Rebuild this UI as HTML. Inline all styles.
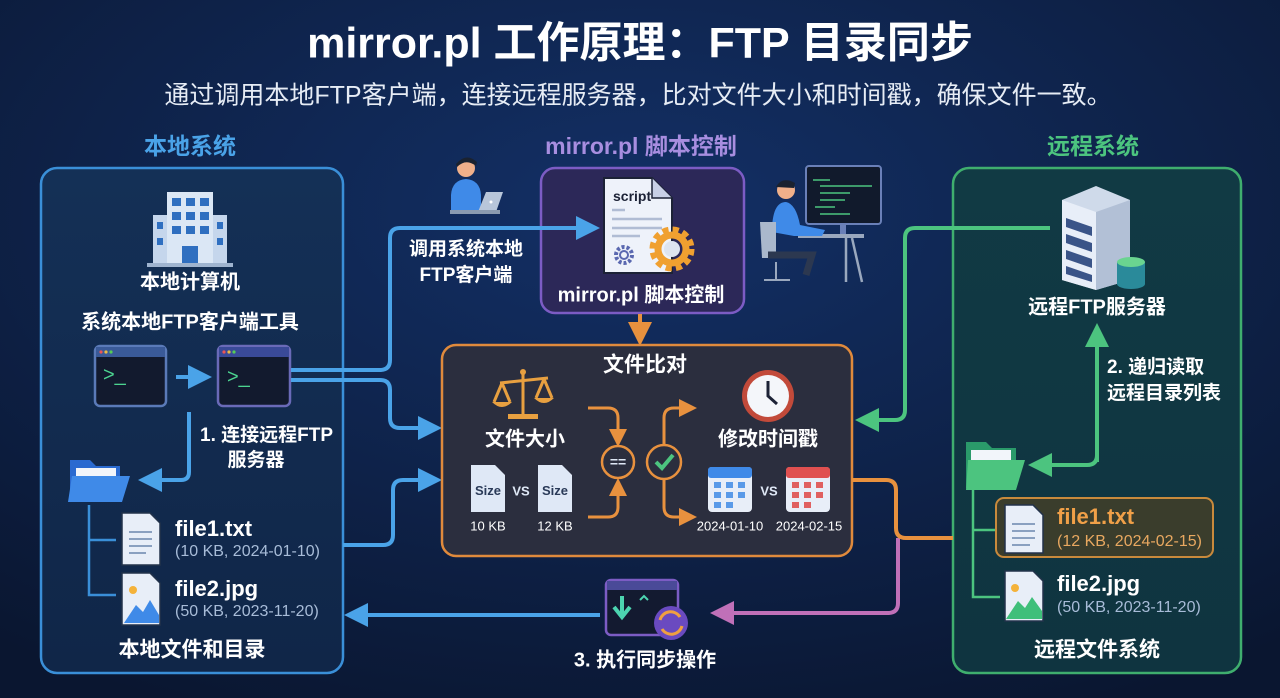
<!DOCTYPE html>
<html><head><meta charset="utf-8"><style>
html,body{margin:0;padding:0;width:1280px;height:698px;overflow:hidden;background:#0c1b38}
svg{display:block}
text{font-family:"Liberation Sans","Noto Sans CJK SC",sans-serif;}
</style></head><body>
<svg width="1280" height="698" viewBox="0 0 1280 698" xmlns="http://www.w3.org/2000/svg">
<defs>
<radialGradient id="bg" cx="50%" cy="30%" r="80%">
<stop offset="0" stop-color="#133066"/><stop offset="1" stop-color="#0a1630"/></radialGradient>
<linearGradient id="lb" x1="0" y1="0" x2="0" y2="1"><stop offset="0" stop-color="#143056"/><stop offset="1" stop-color="#102648"/></linearGradient>
<linearGradient id="rb" x1="0" y1="0" x2="0" y2="1"><stop offset="0" stop-color="#113a44"/><stop offset="1" stop-color="#0f3440"/></linearGradient>
<marker id="ab" markerWidth="6" markerHeight="6" refX="3" refY="3" orient="auto" markerUnits="strokeWidth"><path d="M0,0L6,3L0,6z" fill="#4aa3e8"/></marker>
<marker id="ag" markerWidth="6" markerHeight="6" refX="3" refY="3" orient="auto" markerUnits="strokeWidth"><path d="M0,0L6,3L0,6z" fill="#4cc47f"/></marker>
<marker id="ao" markerWidth="6" markerHeight="6" refX="3" refY="3" orient="auto" markerUnits="strokeWidth"><path d="M0,0L6,3L0,6z" fill="#e8913e"/></marker>
<marker id="ap" markerWidth="6" markerHeight="6" refX="3" refY="3" orient="auto" markerUnits="strokeWidth"><path d="M0,0L6,3L0,6z" fill="#c070b8"/></marker>
</defs>
<rect width="1280" height="698" fill="url(#bg)"/>

<text x="640" y="46" text-anchor="middle" dominant-baseline="middle" fill="#fff" font-size="43" font-weight="bold">mirror.pl 工作原理：FTP 目录同步</text>
<text x="638" y="97" text-anchor="middle" dominant-baseline="middle" fill="#e6ecf5" font-size="25">通过调用本地FTP客户端，连接远程服务器，比对文件大小和时间戳，确保文件一致。</text>

<!-- left box -->
<text x="190" y="148" text-anchor="middle" dominant-baseline="middle" fill="#4aa3e8" font-size="23" font-weight="bold">本地系统</text>
<rect x="41" y="168" width="302" height="505" rx="16" fill="url(#lb)" stroke="#3a8fd8" stroke-width="2.5"/>
<rect x="167" y="192" width="46" height="72" fill="#dbe7f5"/><rect x="153" y="215" width="14" height="49" fill="#c5d6ec"/><rect x="213" y="215" width="14" height="49" fill="#c5d6ec"/>
<g fill="#2f6fc0"><rect x="172" y="198" width="9" height="8"/><rect x="186" y="198" width="9" height="8"/><rect x="200" y="198" width="9" height="8"/><rect x="172" y="212" width="9" height="8"/><rect x="186" y="212" width="9" height="8"/><rect x="200" y="212" width="9" height="8"/><rect x="172" y="226" width="9" height="8"/><rect x="186" y="226" width="9" height="8"/><rect x="200" y="226" width="9" height="8"/><rect x="182" y="246" width="16" height="18"/><rect x="157" y="222" width="6" height="7"/><rect x="157" y="238" width="6" height="7"/><rect x="217" y="222" width="6" height="7"/><rect x="217" y="238" width="6" height="7"/></g>
<rect x="147" y="263" width="86" height="4" fill="#9fb4cf"/>
<text x="190" y="283" text-anchor="middle" dominant-baseline="middle" fill="#fff" font-size="20" font-weight="bold">本地计算机</text>
<text x="190" y="323" text-anchor="middle" dominant-baseline="middle" fill="#fff" font-size="20" font-weight="bold">系统本地FTP客户端工具</text>
<g><rect x="95" y="346" width="71" height="60" rx="5" fill="#121a2e" stroke="#5a7ab8" stroke-width="2.5"/><rect x="96" y="347" width="69" height="10" fill="#3a5a98"/><circle cx="101" cy="352" r="1.6" fill="#e55"/><circle cx="106" cy="352" r="1.6" fill="#eb4"/><circle cx="111" cy="352" r="1.6" fill="#5c5"/><text x="103" y="381" fill="#4cd490" font-size="20" font-family="Liberation Mono">&gt;_</text></g>
<g><rect x="218" y="346" width="72" height="60" rx="5" fill="#121a2e" stroke="#6a6ab8" stroke-width="2.5"/><rect x="219" y="347" width="70" height="10" fill="#3a4a98"/><circle cx="224" cy="352" r="1.6" fill="#e55"/><circle cx="229" cy="352" r="1.6" fill="#eb4"/><circle cx="234" cy="352" r="1.6" fill="#5c5"/><text x="227" y="383" fill="#4cd490" font-size="20" font-family="Liberation Mono">&gt;_</text></g>
<line x1="176" y1="377" x2="200" y2="377" stroke="#4aa3e8" stroke-width="4" marker-end="url(#ab)"/>
<path d="M189 412 V472 Q189 480 181 480 H150" fill="none" stroke="#4aa3e8" stroke-width="4" marker-end="url(#ab)"/>
<text x="200" y="436" dominant-baseline="middle" fill="#fff" font-size="19" font-weight="bold">1. 连接远程FTP</text>
<text x="256" y="461" text-anchor="middle" dominant-baseline="middle" fill="#fff" font-size="19" font-weight="bold">服务器</text>
<path d="M70 460 H90 L96 466 H120 V500 H70z" fill="#2a6ad0"/><rect x="76" y="468" width="40" height="20" fill="#f2f5fa"/><path d="M72 476 H130 L122 502 H68z" fill="#3f8ae8"/>
<path d="M89 505 V595 H116 M89 540 H116" fill="none" stroke="#3a8fd8" stroke-width="2.5"/>
<path d="M122 513 H150 L160 523 V565 H122z" fill="#e8eef8" stroke="#22324a" stroke-width="1.5"/>
<g stroke="#8aa0c0" stroke-width="2"><line x1="129" y1="532" x2="152" y2="532"/><line x1="129" y1="539" x2="152" y2="539"/><line x1="129" y1="546" x2="152" y2="546"/><line x1="129" y1="553" x2="146" y2="553"/></g>
<text x="175" y="530" dominant-baseline="middle" fill="#fff" font-size="22" font-weight="bold">file1.txt</text>
<text x="175" y="552" dominant-baseline="middle" fill="#a8bcd8" font-size="16">(10 KB, 2024-01-10)</text>
<path d="M122 573 H150 L160 583 V625 H122z" fill="#e8eef8" stroke="#22324a" stroke-width="1.5"/>
<circle cx="133" cy="590" r="4" fill="#f4b23a"/><path d="M124 623 L136 605 L143 612 L150 600 L159 615 V623z" fill="#3f8ae8"/>
<text x="175" y="590" dominant-baseline="middle" fill="#fff" font-size="22" font-weight="bold">file2.jpg</text>
<text x="175" y="612" dominant-baseline="middle" fill="#a8bcd8" font-size="16">(50 KB, 2023-11-20)</text>
<text x="192" y="651" text-anchor="middle" dominant-baseline="middle" fill="#fff" font-size="21" font-weight="bold">本地文件和目录</text>

<path d="M291 380 H380 Q390 380 390 390 V418 Q390 428 400 428 H430" fill="none" stroke="#4aa3e8" stroke-width="4" marker-end="url(#ab)"/>
<path d="M343 545 H383 Q393 545 393 535 V490 Q393 480 403 480 H430" fill="none" stroke="#4aa3e8" stroke-width="4" marker-end="url(#ab)"/>
<text x="466" y="250" text-anchor="middle" dominant-baseline="middle" fill="#fff" font-size="19" font-weight="bold">调用系统本地</text>
<text x="466" y="276" text-anchor="middle" dominant-baseline="middle" fill="#fff" font-size="19" font-weight="bold">FTP客户端</text>

<circle cx="466" cy="168" r="9" fill="#f0b08a"/><path d="M456 164 Q466 152 477 162 L476 166 Q466 158 457 167z" fill="#1a2230"/>
<path d="M451 195 Q452 180 466 179 Q480 180 481 195 V212 H451z" fill="#3f8ae8"/>
<path d="M478 212 L486 192 H503 L496 212z" fill="#b8c6da"/><circle cx="491" cy="202" r="1.5" fill="#fff"/>
<rect x="450" y="210" width="50" height="4" fill="#8a9ab0"/>

<text x="641" y="148" text-anchor="middle" dominant-baseline="middle" fill="#a88ee0" font-size="23" font-weight="bold">mirror.pl 脚本控制</text>
<rect x="541" y="168" width="203" height="145" rx="14" fill="#2c2858" stroke="#7c5cc4" stroke-width="2.5"/>
<path d="M291 370 H380 Q390 370 390 360 V238 Q390 228 400 228 H588" fill="none" stroke="#4aa3e8" stroke-width="4" marker-end="url(#ab)"/>
<path d="M604 178 H652 L672 198 V273 H604z" fill="#eef2fa" stroke="#1c2236" stroke-width="2"/>
<path d="M652 178 V198 H672" fill="#c8d0e6" stroke="#1c2236" stroke-width="1.5"/>
<text x="613" y="201" fill="#1c2236" font-size="14" font-weight="bold">script</text>
<g stroke="#b0bcd4" stroke-width="2.5"><line x1="612" y1="210" x2="625" y2="210"/><line x1="612" y1="219" x2="662" y2="219"/><line x1="612" y1="228" x2="662" y2="228"/><line x1="612" y1="236" x2="640" y2="236"/></g>
<circle cx="624" cy="255" r="8" fill="none" stroke="#5a68b0" stroke-width="4" stroke-dasharray="3 2"/><circle cx="624" cy="255" r="4" fill="none" stroke="#5a68b0" stroke-width="2"/>
<circle cx="672" cy="249" r="19" fill="none" stroke="#f0a030" stroke-width="7" stroke-dasharray="6 4"/><circle cx="672" cy="249" r="14" fill="none" stroke="#f0a030" stroke-width="7"/><circle cx="672" cy="249" r="8" fill="#dde4f0"/>
<text x="641" y="296" text-anchor="middle" dominant-baseline="middle" fill="#fff" font-size="20" font-weight="bold">mirror.pl 脚本控制</text>

<rect x="806" y="166" width="75" height="58" rx="3" fill="#111a2c" stroke="#6a80b8" stroke-width="2"/>
<g stroke="#4cc47f" stroke-width="1.5"><line x1="813" y1="180" x2="830" y2="180"/><line x1="820" y1="186" x2="872" y2="186"/><line x1="820" y1="193" x2="850" y2="193"/><line x1="820" y1="200" x2="845" y2="200"/><line x1="815" y1="207" x2="835" y2="207"/><line x1="820" y1="214" x2="850" y2="214"/></g>
<rect x="840" y="224" width="6" height="10" fill="#6a80b8"/>
<rect x="798" y="234" width="66" height="4" fill="#9aa8be"/><line x1="846" y1="238" x2="846" y2="282" stroke="#9aa8be" stroke-width="2.5"/><line x1="852" y1="238" x2="862" y2="282" stroke="#9aa8be" stroke-width="2.5"/>
<circle cx="786" cy="190" r="9" fill="#f0b08a"/><path d="M776 187 Q782 176 795 183 L794 188z" fill="#1a2230"/>
<path d="M772 232 Q772 202 786 202 Q796 204 800 225 L825 230 L822 236 L794 236z" fill="#3f8ae8"/>
<path d="M760 222 H776 V258 H762z" fill="#aab8cc"/><path d="M768 255 H812 L806 275" stroke="#2c3850" stroke-width="7" fill="none"/>
<line x1="776" y1="262" x2="776" y2="280" stroke="#9aa8be" stroke-width="2"/><line x1="764" y1="280" x2="790" y2="280" stroke="#9aa8be" stroke-width="2"/>

<line x1="640" y1="314" x2="640" y2="334" stroke="#e8913e" stroke-width="4" marker-end="url(#ao)"/>

<rect x="442" y="345" width="410" height="211" rx="14" fill="#2b2e3e" stroke="#e08a3c" stroke-width="2.5"/>
<text x="645" y="366" text-anchor="middle" dominant-baseline="middle" fill="#fff" font-size="21" font-weight="bold">文件比对</text>
<g stroke="#e8a040" stroke-width="3" fill="none"><line x1="523" y1="372" x2="523" y2="414"/><line x1="500" y1="383" x2="548" y2="378"/><path d="M502 383 L494 402 M502 383 L510 402 M544 379 L536 398 M544 379 L552 398"/></g>
<path d="M492 402 H512 Q502 412 492 402z M534 398 H554 Q544 408 534 398z" fill="#e8a040"/><rect x="508" y="414" width="30" height="5" fill="#e8a040"/><circle cx="523" cy="372" r="3" fill="#e8a040"/>
<text x="525" y="440" text-anchor="middle" dominant-baseline="middle" fill="#fff" font-size="20" font-weight="bold">文件大小</text>
<g font-size="13" font-weight="bold" fill="#2a3a58"><path d="M471 465 H495 L505 475 V512 H471z" fill="#dfe8f6"/><text x="488" y="495" text-anchor="middle">Size</text>
<path d="M538 465 H562 L572 475 V512 H538z" fill="#dfe8f6"/><text x="555" y="495" text-anchor="middle">Size</text></g>
<text x="521" y="492" text-anchor="middle" dominant-baseline="middle" fill="#dfe8f6" font-size="13" font-weight="bold">VS</text>
<text x="488" y="527" text-anchor="middle" dominant-baseline="middle" fill="#fff" font-size="13">10 KB</text>
<text x="555" y="527" text-anchor="middle" dominant-baseline="middle" fill="#fff" font-size="13">12 KB</text>
<path d="M588 408 H608 Q618 408 618 418 V438" fill="none" stroke="#e8913e" stroke-width="3" marker-end="url(#ao)"/>
<path d="M588 517 H608 Q618 517 618 507 V487" fill="none" stroke="#e8913e" stroke-width="3" marker-end="url(#ao)"/>
<circle cx="618" cy="462" r="16" fill="#2b2e3e" stroke="#e8913e" stroke-width="2.5"/><text x="618" y="463" text-anchor="middle" dominant-baseline="middle" fill="#dfe8f6" font-size="14" font-weight="bold">==</text>
<circle cx="664" cy="462" r="17" fill="#2b2e3e" stroke="#e8913e" stroke-width="2.5"/><path d="M656 462 L662 468 L673 455" stroke="#4cc47f" stroke-width="4" fill="none"/>
<path d="M664 445 V418 Q664 408 674 408 H688" fill="none" stroke="#e8913e" stroke-width="3" marker-end="url(#ao)"/>
<path d="M664 479 V507 Q664 517 674 517 H688" fill="none" stroke="#e8913e" stroke-width="3" marker-end="url(#ao)"/>
<circle cx="768" cy="396" r="26" fill="#c24a3a"/><circle cx="768" cy="396" r="21" fill="#f4f6fa"/><path d="M768 381 V396 L777 404" stroke="#1c2236" stroke-width="3" fill="none"/>
<text x="768" y="440" text-anchor="middle" dominant-baseline="middle" fill="#fff" font-size="20" font-weight="bold">修改时间戳</text>
<rect x="708" y="467" width="44" height="45" rx="4" fill="#e8eef8"/><rect x="708" y="467" width="44" height="11" rx="3" fill="#3f8ae8"/>
<g fill="#5a9ae8"><rect x="714" y="482" width="7" height="6"/><rect x="726" y="482" width="7" height="6"/><rect x="738" y="482" width="7" height="6"/><rect x="714" y="492" width="7" height="6"/><rect x="726" y="492" width="7" height="6"/><rect x="738" y="492" width="7" height="6"/><rect x="714" y="502" width="7" height="6"/><rect x="726" y="502" width="7" height="6"/></g>
<rect x="786" y="467" width="44" height="45" rx="4" fill="#e8eef8"/><rect x="786" y="467" width="44" height="11" rx="3" fill="#e05050"/>
<g fill="#e06060"><rect x="792" y="482" width="7" height="6"/><rect x="804" y="482" width="7" height="6"/><rect x="816" y="482" width="7" height="6"/><rect x="792" y="492" width="7" height="6"/><rect x="804" y="492" width="7" height="6"/><rect x="816" y="492" width="7" height="6"/><rect x="792" y="502" width="7" height="6"/><rect x="804" y="502" width="7" height="6"/></g>
<text x="769" y="492" text-anchor="middle" dominant-baseline="middle" fill="#dfe8f6" font-size="13" font-weight="bold">VS</text>
<text x="730" y="527" text-anchor="middle" dominant-baseline="middle" fill="#fff" font-size="13">2024-01-10</text>
<text x="809" y="527" text-anchor="middle" dominant-baseline="middle" fill="#fff" font-size="13">2024-02-15</text>

<text x="1093" y="148" text-anchor="middle" dominant-baseline="middle" fill="#4cc47f" font-size="23" font-weight="bold">远程系统</text>
<rect x="953" y="168" width="288" height="505" rx="16" fill="url(#rb)" stroke="#3fae6e" stroke-width="2.5"/>
<path d="M1062 200 L1096 186 L1130 200 V280 L1096 290 L1062 280z" fill="#cfdaea"/><path d="M1062 200 L1096 212 V290 L1062 280z" fill="#e8eef8"/><path d="M1096 212 L1130 200 V280 L1096 290z" fill="#b2c0d6"/>
<g fill="#3a5488"><path d="M1066 218 L1092 227 V236 L1066 227z"/><path d="M1066 234 L1092 243 V252 L1066 243z"/><path d="M1066 250 L1092 259 V268 L1066 259z"/><path d="M1066 266 L1092 275 V282 L1066 274z"/></g>
<rect x="1117" y="262" width="28" height="22" fill="#2a8a9a"/><ellipse cx="1131" cy="284" rx="14" ry="5" fill="#2a8a9a"/><ellipse cx="1131" cy="262" rx="14" ry="5" fill="#6ad490"/>
<text x="1097" y="308" text-anchor="middle" dominant-baseline="middle" fill="#fff" font-size="20" font-weight="bold">远程FTP服务器</text>
<path d="M1097 462 V335" fill="none" stroke="#4cc47f" stroke-width="4" marker-end="url(#ag)"/>
<path d="M1097 455 Q1097 465 1087 465 H1040" fill="none" stroke="#4cc47f" stroke-width="4" marker-end="url(#ag)"/>
<text x="1107" y="368" dominant-baseline="middle" fill="#fff" font-size="19" font-weight="bold">2. 递归读取</text>
<text x="1107" y="394" dominant-baseline="middle" fill="#fff" font-size="19" font-weight="bold">远程目录列表</text>
<path d="M966 442 H986 L992 448 H1016 V488 H966z" fill="#2a9a6a"/><rect x="971" y="450" width="40" height="20" fill="#f2f5fa"/><path d="M968 460 H1025 L1016 490 H966z" fill="#4cc47f"/>
<path d="M973 490 V597 H1000 M973 530 H1000" fill="none" stroke="#4cc47f" stroke-width="2.5"/>
<rect x="996" y="498" width="217" height="59" rx="8" fill="#3a3d2c" stroke="#c98a3c" stroke-width="2"/>
<path d="M1005 505 H1033 L1043 515 V553 H1005z" fill="#e8eef8" stroke="#22324a" stroke-width="1.5"/>
<g stroke="#8aa0c0" stroke-width="2"><line x1="1012" y1="524" x2="1035" y2="524"/><line x1="1012" y1="531" x2="1035" y2="531"/><line x1="1012" y1="538" x2="1035" y2="538"/><line x1="1012" y1="545" x2="1030" y2="545"/></g>
<text x="1057" y="518" dominant-baseline="middle" fill="#f0a048" font-size="22" font-weight="bold">file1.txt</text>
<text x="1057" y="542" dominant-baseline="middle" fill="#e8a860" font-size="16">(12 KB, 2024-02-15)</text>
<path d="M1005 571 H1033 L1043 581 V621 H1005z" fill="#e8eef8" stroke="#22324a" stroke-width="1.5"/>
<circle cx="1015" cy="588" r="4" fill="#f4b23a"/><path d="M1006 619 L1018 601 L1025 608 L1032 597 L1042 611 V619z" fill="#3fbf7a"/>
<text x="1057" y="585" dominant-baseline="middle" fill="#fff" font-size="22" font-weight="bold">file2.jpg</text>
<text x="1057" y="608" dominant-baseline="middle" fill="#a8bcd8" font-size="16">(50 KB, 2023-11-20)</text>
<text x="1097" y="651" text-anchor="middle" dominant-baseline="middle" fill="#fff" font-size="21" font-weight="bold">远程文件系统</text>

<path d="M1050 228 H915 Q905 228 905 238 V410 Q905 420 895 420 H867" fill="none" stroke="#4cc47f" stroke-width="4" marker-end="url(#ag)"/>
<path d="M898 538 V603 Q898 613 888 613 H722" fill="none" stroke="#c070b8" stroke-width="4" marker-end="url(#ap)"/>
<path d="M852 480 H886 Q896 480 896 490 V528 Q896 538 906 538 H953" fill="none" stroke="#e8913e" stroke-width="4"/>

<rect x="606" y="580" width="72" height="55" rx="5" fill="#131a30" stroke="#7c5cc4" stroke-width="2.5"/><rect x="607" y="581" width="70" height="9" fill="#4a4a98"/>
<path d="M622 596 V614 M614 607 L622 617 L630 607" stroke="#4cd4b0" stroke-width="4" fill="none"/><path d="M640 600 L644 596 L648 600" stroke="#4cd4b0" stroke-width="2" fill="none"/>
<circle cx="671" cy="623" r="17" fill="#6a4ac0"/><path d="M660 620 A11 11 0 0 1 680 617 M682 626 A11 11 0 0 1 662 629" stroke="#f0a040" stroke-width="3" fill="none"/>
<text x="645" y="661" text-anchor="middle" dominant-baseline="middle" fill="#fff" font-size="20" font-weight="bold">3. 执行同步操作</text>
<line x1="600" y1="615" x2="356" y2="615" stroke="#4aa3e8" stroke-width="4" marker-end="url(#ab)"/>
</svg>
</body></html>
